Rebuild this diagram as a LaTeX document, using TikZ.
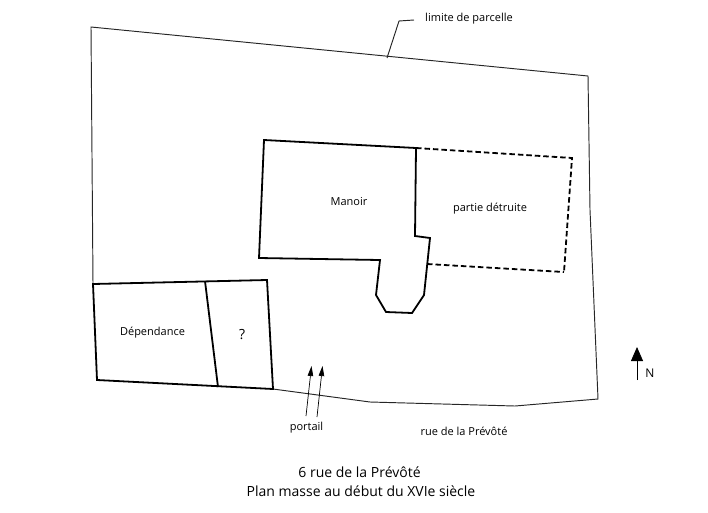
\documentclass[tikz,border=0pt]{standalone}
\usepackage{fontspec}
\setmainfont{Open Sans}
\usetikzlibrary{arrows.meta}
\tikzset{
  lbl/.style={inner sep=0pt,font=\fontsize{11}{13}\selectfont,text=black},
  big/.style={inner sep=0pt,font=\fontsize{14}{16}\selectfont,text=black},
  ttl/.style={inner sep=0pt,font=\fontsize{14}{16}\selectfont,text=black},
  wall/.style={line width=1.8pt,line join=miter},
  ruin/.style={line width=1.8pt,dash pattern=on 5.5pt off 3pt},
  limit/.style={line width=0.95pt,draw=black!85},
  gate/.style={line width=0.7pt,-{Triangle[length=10pt,width=5.5pt]}},
  north/.style={line width=0.8pt,-{Triangle[length=14pt,width=12pt]}}
}
\begin{document}
\begin{tikzpicture}[x=1pt,y=-1pt]
\useasboundingbox (0,0) rectangle (708,512);
% parcel limit
\draw[limit] (93,284) -- (91,27) -- (588,76) -- (590,210) -- (598,399) -- (515,406) -- (370,402) -- (273,389);
\coordinate (lim1) at (387,58);
\coordinate (lim2) at (399,21);
\coordinate (lim3) at (414,20);
\draw[limit] (lim1) -- (lim2) -- (lim3);
% manor
\draw[wall] (416,148) -- (264,140) -- (259,258) -- (380,260) -- (376,295) -- (386,312) -- (412,313) -- (424,295) -- (430,238) -- (415,236) -- cycle;
% destroyed part
\draw[ruin] (416,148) -- (572,158) -- (564,272);
\draw[ruin] (427,264) -- (564,272);
% outbuilding
\draw[wall] (93,284) -- (267,280) -- (273,389) -- (97,380) -- cycle;
\draw[wall] (205,281) -- (218,387);
% gate arrows
\coordinate (g1a) at (306,416); \coordinate (g1b) at (311.5,366);
\coordinate (g2a) at (317,417); \coordinate (g2b) at (322.5,366);
\draw[gate] (g1a) -- (g1b);
\draw[gate] (g2a) -- (g2b);
% north
\coordinate (na) at (637,380); \coordinate (nb) at (637,347);
\draw[north] (na) -- (nb);
% labels
\node[lbl] (limite) at (469,19) {limite de parcelle};
\node[lbl] (manoir) at (349,202) {Manoir};
\node[lbl] (detruite) at (490,209) {partie détruite};
\node[lbl] (dep) at (152.5,333) {Dépendance};
\node[big] (q) at (242,335) {?};
\node[lbl] (portail) at (306.5,428) {portail};
\node[lbl] (rue) at (464,431) {rue de la Prévôté};
\node[inner sep=0pt,font=\fontsize{12}{14}\selectfont] (n) at (650,373) {N};
\node[ttl] (t1) at (359.5,472) {6 rue de la Prévôté};
\node[ttl] (t2) at (361,491.5) {Plan masse au début du XVIe siècle};
\end{tikzpicture}
\end{document}
